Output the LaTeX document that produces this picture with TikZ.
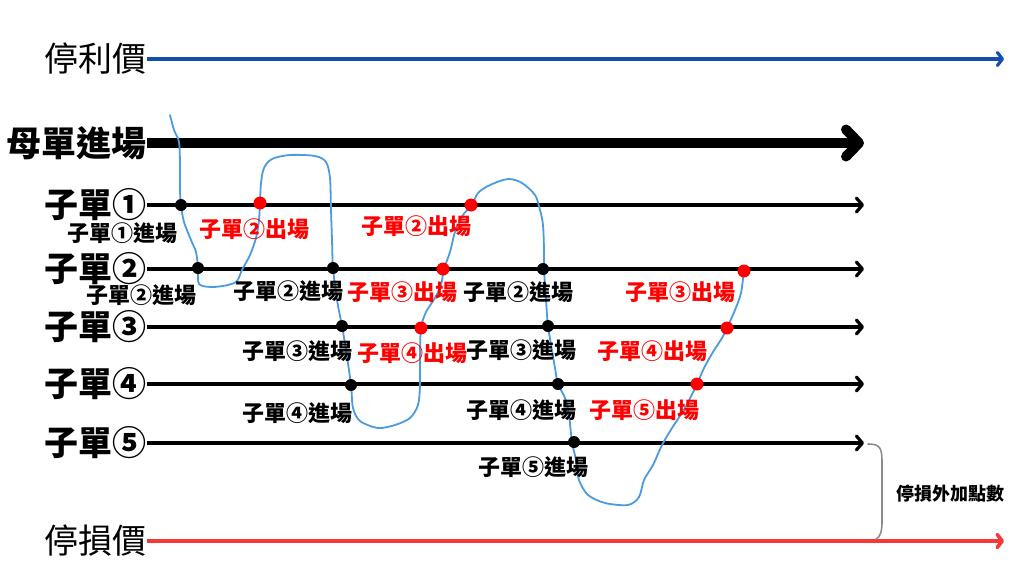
\documentclass[tikz,border=0pt]{standalone}
\usepackage{fontspec}
\setmainfont{Noto Sans CJK TC}
\usetikzlibrary{arrows.meta}
\definecolor{tpblue}{RGB}{18,78,170}
\definecolor{slred}{RGB}{245,55,55}
\definecolor{pricec}{RGB}{75,155,222}
\definecolor{bracec}{RGB}{140,140,140}
\begin{document}
\begin{tikzpicture}[x=1pt,y=-1pt,
  rowlab/.style={anchor=east, inner sep=0pt, font=\fontsize{34}{36}\selectfont\bfseries},
  pricelab/.style={anchor=east, inner sep=0pt, font=\fontsize{34}{36}\selectfont},
  lab/.style={inner sep=0pt, font=\fontsize{22}{24}\selectfont\bfseries},
  redlab/.style={lab, text=red},
  dotb/.style={circle, fill=black, inner sep=0pt, minimum size=12pt},
  dotr/.style={circle, fill=red, inner sep=0pt, minimum size=13pt},
  childline/.style={line width=3.2pt, -{Straight Barb[round, length=6pt, width=14pt]}},
  motherline/.style={line width=10pt, -{Straight Barb[round, length=13pt, width=27pt]}},
  tpline/.style={line width=3.2pt, tpblue, -{Straight Barb[round, length=5pt, width=13pt]}},
  slline/.style={line width=3.6pt, slred, -{Straight Barb[round, length=5pt, width=13pt]}},
  pricepath/.style={line width=1.8pt, pricec, line join=round, line cap=round},
  brace/.style={line width=1.6pt, bracec, line cap=round}
]
\useasboundingbox (0,0) rectangle (1024,576);

% row labels
\node[pricelab] (tp) at (147,59) {停利價};
\node[rowlab, font=\fontsize{35}{36}\selectfont\bfseries] (mo) at (147,143) {母單進場};
\node[rowlab] (c1) at (147,205) {子單①};
\node[rowlab] (c2) at (147,269) {子單②};
\node[rowlab] (c3) at (147,327) {子單③};
\node[rowlab] (c4) at (147,384) {子單④};
\node[rowlab] (c5) at (147,443) {子單⑤};
\node[pricelab] (sl) at (147,541) {停損價};

% line ends
\coordinate (tpE) at (1004,59);
\coordinate (moE) at (864,143);
\coordinate (c1E) at (864,205);
\coordinate (c2E) at (864,269);
\coordinate (c3E) at (864,327);
\coordinate (c4E) at (864,384);
\coordinate (c5E) at (864,443);
\coordinate (slE) at (1004,541);

\draw[tpline] (tp.east) -- (tpE);
\draw[motherline] (mo.east) -- (moE);
\draw[childline] (c1.east) -- (c1E);
\draw[childline] (c2.east) -- (c2E);
\draw[childline] (c3.east) -- (c3E);
\draw[childline] (c4.east) -- (c4E);
\draw[childline] (c5.east) -- (c5E);
\draw[slline] (sl.east) -- (slE);

% price path
\draw[pricepath] plot[smooth, tension=0.5] coordinates {
(170,115) (174,130) (179,142) (180,165) (180,190) (181,205) (184,222) (191,240) (196,252) (198,268) (199,284) (212,287) (228,285) (237,281) (242,270) (250,255) (256,238) (259,220) (260,202) (261,183) (264,168) (272,159) (290,155) (315,156) (326,162) (330,178) (331,210) (332,240) (333,268) (337,300) (342,326) (346,350) (351,385) (353,408) (360,421) (378,428) (395,425) (410,418) (418,405) (420,385) (420,355) (421,328) (426,312) (435,298) (441,285) (444,269) (450,252) (455,232) (463,215) (472,205) (478,193) (490,185) (508,179) (522,183) (535,195) (540,210) (543,225) (544,250) (544,269) (546,300) (548,326) (552,350) (555,368) (558,384) (565,398) (569,415) (572,442) (576,460) (579,480) (588,495) (605,503) (628,505) (639,497) (644,480) (653,465) (662,445) (672,428) (685,408) (697,384) (704,368) (713,352) (722,338) (727,328) (735,310) (741,293) (744,271) (746,266)};

% dots
\node[dotb] (d1a) at (181,205) {};
\node[dotr] (d1b) at (260,203) {};
\node[dotr] (d1c) at (471,205) {};
\node[dotb] (d2a) at (198,268) {};
\node[dotb] (d2b) at (333,268) {};
\node[dotr] (d2c) at (443,269) {};
\node[dotb] (d2d) at (543,269) {};
\node[dotr] (d2e) at (744,271) {};
\node[dotb] (d3a) at (342,326) {};
\node[dotr] (d3b) at (421,328) {};
\node[dotb] (d3c) at (548,326) {};
\node[dotr] (d3d) at (727,328) {};
\node[dotb] (d4a) at (351,385) {};
\node[dotb] (d4b) at (558,384) {};
\node[dotr] (d4c) at (697,384) {};
\node[dotb] (d5a) at (574,442) {};

% labels
\node[lab] (l1) at (122,233) {子單①進場};
\node[redlab] (l2) at (254,229) {子單②出場};
\node[redlab] (l3) at (416,226) {子單②出場};
\node[lab] (l4) at (141,295) {子單②進場};
\node[lab] (l5) at (288,291) {子單②進場};
\node[redlab] (l6) at (402,292) {子單③出場};
\node[lab] (l7) at (518,292) {子單②進場};
\node[redlab] (l8) at (680,292) {子單③出場};
\node[lab] (l9) at (297,351) {子單③進場};
\node[redlab] (l10) at (412,353) {子單④出場};
\node[lab] (l11) at (521,350) {子單③進場};
\node[redlab] (l12) at (652,351) {子單④出場};
\node[lab] (l13) at (297,413) {子單④進場};
\node[lab] (l14) at (521,410) {子單④進場};
\node[redlab] (l15) at (644,410) {子單⑤出場};
\node[lab] (l16) at (533,467) {子單⑤進場};

% brace
\coordinate (bt) at (868,444);
\coordinate (bb) at (876,539);
\draw[brace] (bt) .. controls (880,444) and (882,448) .. (882,462) -- (882,522) .. controls (882,532) and (880,537) .. (bb);
\node[inner sep=0pt, font=\fontsize{18}{20}\selectfont\bfseries] (bl) at (950,494) {停損外加點數};
\end{tikzpicture}
\end{document}
